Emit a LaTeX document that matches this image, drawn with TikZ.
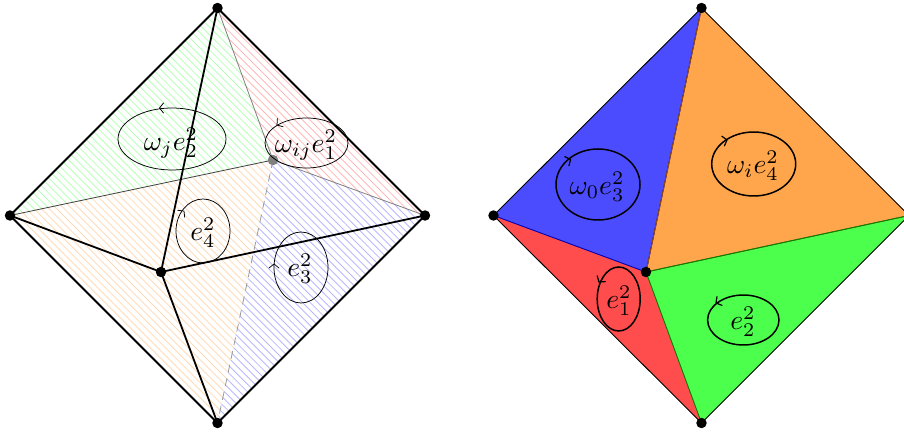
\documentclass[tikz,border=0pt]{standalone}
\tikzset{
  dotnode/.style={circle,fill=black,inner sep=0pt,minimum size=10.5pt},
  thinloop/.style={draw=black,line width=0.75pt},
  thickloop/.style={draw=black,line width=1.5pt},
  lab/.style={scale=2.78,text=black},
  edgeline/.style={line width=1.8pt,black},
  chev/.style={line width=0.75pt,black,line cap=round},
  chevb/.style={line width=1.2pt,black,line cap=round},
}
\newcommand{\chevron}[4][chev]{% style x y angle
  \draw[#1,shift={(#2,#3)},rotate=#4] (-4,-5) .. controls (-1.7,-1.8) .. (0,0) .. controls (-1.7,1.8) .. (-4,5);}
\newcommand{\hatch}[2]{% colour, polygon path
  \begin{scope}
    \clip #2;
    \foreach \k in {-80,...,80} {
      \draw[line width=0.85pt,#1] ({\k*7.6},0) ++(-450,-450) -- ++(900,900);
    }
  \end{scope}}
\begin{document}
\begin{tikzpicture}[x=1bp,y=-1bp]
\useasboundingbox (0,0) rectangle (904,434);
\clip (0,0) rectangle (904,434);
\coordinate (LT) at (217.5,8);
\coordinate (LL) at (10,215.5);
\coordinate (LR) at (425,215.5);
\coordinate (LB) at (217.5,423);
\coordinate (LI) at (161,272);
\coordinate (LU) at (273,160);
\hatch{green!28}{(LL)--(LT)--(LU)--cycle}
\hatch{red!28}{(LT)--(LR)--(LU)--cycle}
\hatch{blue!28}{(LU)--(LR)--(LB)--cycle}
\hatch{orange!28}{(LL)--(LU)--(LB)--cycle}
\draw[line width=0.8pt,black!75] (LL)--(LU);
\draw[line width=0.8pt,black!50] (LT)--(LU);
\draw[line width=0.8pt,black!50] (LR)--(LU);
\draw[line width=0.8pt,black!40,dash pattern=on 8pt off 6pt] (LU)--(LB);
\draw[edgeline] (LL)--(LT)--(LR)--(LB)--cycle;
\draw[edgeline] (LI)--(LL) (LI)--(LT) (LI)--(LR) (LI)--(LB);
\node[dotnode,fill=black!50] (nLU) at (LU) {};
\node[dotnode] (nLT) at (LT) {};
\node[dotnode] (nLL) at (LL) {};
\node[dotnode] (nLR) at (LR) {};
\node[dotnode] (nLB) at (LB) {};
\node[dotnode] (nLI) at (LI) {};
\draw[thinloop] (172,139) ellipse [x radius=54,y radius=31];
\node[lab] (ta1) at (171,143) {$\omega_j e_2^2$};
\draw[thinloop] (306.5,143) ellipse [x radius=41.5,y radius=25];
\node[lab] (ta2) at (306,145) {$\omega_{ij} e_1^2$};
\draw[thinloop] (203,231) ellipse [x radius=27,y radius=32];
\node[lab] (ta3) at (203,233) {$e_4^2$};
\draw[thinloop] (301,267.5) ellipse [x radius=27,y radius=35.5];
\node[lab] (ta4) at (300,269) {$e_3^2$};
\chevron{159.5}{108}{180}
\chevron{277}{125}{215}
\chevron{184}{211}{45}
\chevron{274}{264}{90}
\coordinate (RT) at (701.5,8);
\coordinate (RL) at (493.5,215.5);
\coordinate (RR) at (909,215.5);
\coordinate (RB) at (701.5,423);
\coordinate (RI) at (646,272);
\fill[blue!70] (RL)--(RT)--(RI)--cycle;
\fill[orange!70] (RT)--(RR)--(RI)--cycle;
\fill[green!70] (RI)--(RR)--(RB)--cycle;
\fill[red!70] (RL)--(RI)--(RB)--cycle;
\draw[line width=0.9pt,blue!70!black] (RL)--(RI)--(RT);
\draw[line width=0.9pt,orange!60!black] (RT)--(RI)--(RR);
\draw[line width=0.9pt,green!50!black] (RR)--(RI)--(RB);
\draw[line width=0.9pt,black] (RL)--(RT)--(RR)--(RB)--cycle;
\node[dotnode] (nRT) at (RT) {};
\node[dotnode] (nRL) at (RL) {};
\node[dotnode] (nRB) at (RB) {};
\node[dotnode] (nRI) at (RI) {};
\draw[thickloop] (598,184.5) ellipse [x radius=42,y radius=35.5];
\node[lab] (tb1) at (597,187) {$\omega_0 e_3^2$};
\draw[thickloop] (753.7,164) ellipse [x radius=42,y radius=32];
\node[lab] (tb2) at (753,166) {$\omega_i e_4^2$};
\draw[thickloop] (618.7,299) ellipse [x radius=21.5,y radius=32];
\node[lab] (tb3) at (619,301) {$e_1^2$};
\draw[thickloop] (743.3,320) ellipse [x radius=35.7,y radius=25];
\node[lab] (tb4) at (743,322) {$e_2^2$};
\chevron[chevb]{570.5}{159.5}{25}
\chevron[chevb]{727}{140}{15}
\chevron[chevb]{599}{282}{235}
\chevron[chevb]{716}{303}{210}
\end{tikzpicture}
\end{document}
